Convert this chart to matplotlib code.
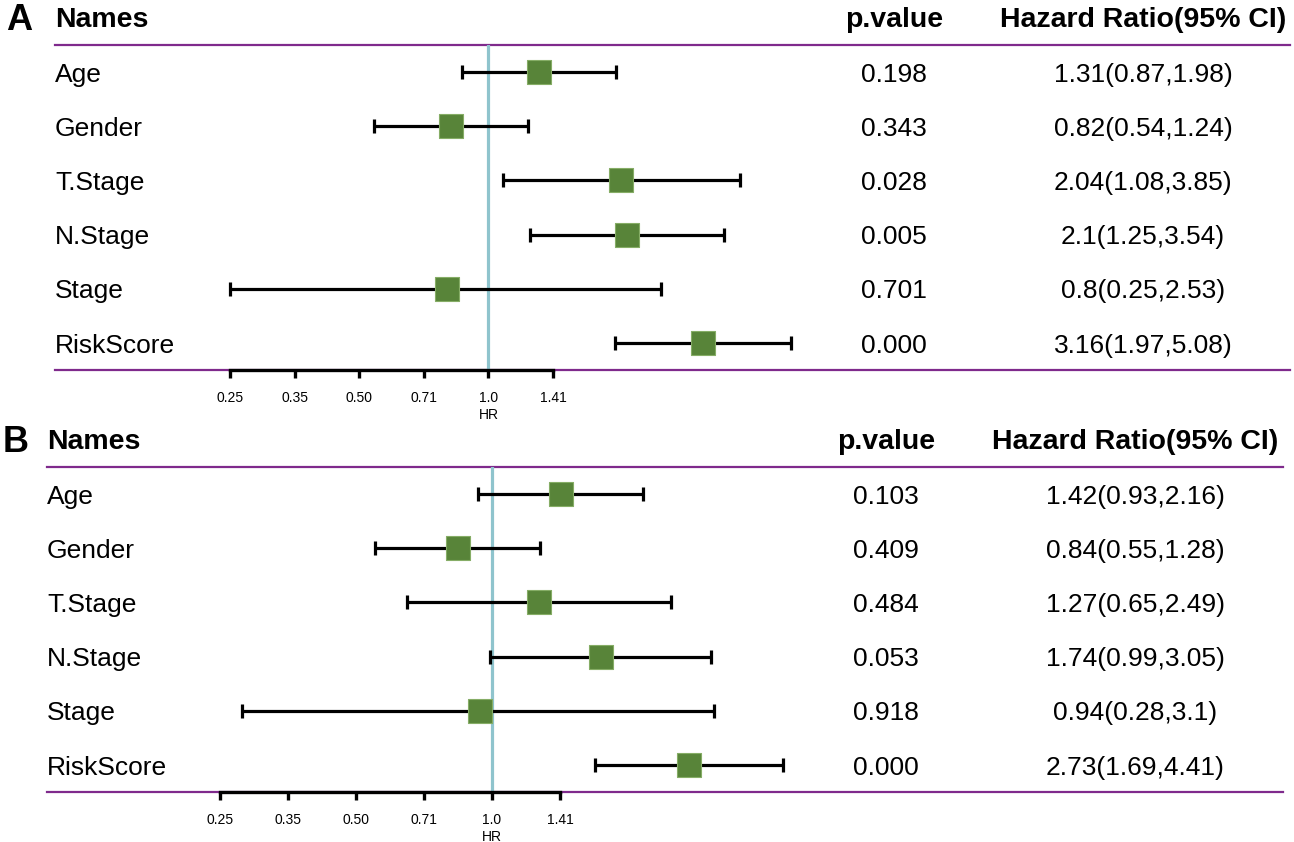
import numpy as np
import matplotlib
matplotlib.use("Agg")
import matplotlib.pyplot as plt
from matplotlib.transforms import blended_transform_factory

plt.rcParams["font.family"] = ["Liberation Sans", "DejaVu Sans"]

W, H = 1294, 842

names = ["Age", "Gender", "T.Stage", "N.Stage", "Stage", "RiskScore"]

# panel A
a_pval = ["0.198", "0.343", "0.028", "0.005", "0.701", "0.000"]
a_hr = [1.31, 0.82, 2.04, 2.1, 0.8, 3.16]
a_lo = [0.87, 0.54, 1.08, 1.25, 0.25, 1.97]
a_hi = [1.98, 1.24, 3.85, 3.54, 2.53, 5.08]

# panel B
b_pval = ["0.103", "0.409", "0.484", "0.053", "0.918", "0.000"]
b_hr = [1.42, 0.84, 1.27, 1.74, 0.94, 2.73]
b_lo = [0.93, 0.55, 0.65, 0.99, 0.28, 1.69]
b_hi = [2.16, 1.28, 2.49, 3.05, 3.1, 4.41]

tick_exp = [-2, -1.5, -1, -0.5, 0, 0.5]
tick_labels = ["0.25", "0.35", "0.50", "0.71", "1.0", "1.41"]

GREEN = "#588439"
BLUE = "#8fc4cd"
PURPLE = "#7f2a8c"


def draw_panel(fig, letter, pval, hr, lo, hi, box):
    # box: pixel layout (left, right, x at 0.25, x at 1.41, top line, bottom line, p col, HR col, letter x)
    left, right, x_lo, x_hi, top, bottom, pcol, hcol, lx = box
    ax = fig.add_axes([left / W, 1 - bottom / H, (right - left) / W, (bottom - top) / H])
    ppu = (x_hi - x_lo) / 2.5
    u_left = -2 - (x_lo - left) / ppu
    u_right = 0.5 + (right - x_hi) / ppu
    ax.set_xscale("log", base=2)
    ax.set_xlim(2 ** u_left, 2 ** u_right)
    ax.set_ylim(6.5, 0.5)

    hr = np.array(hr)
    lo = np.array(lo)
    hi = np.array(hi)
    y = np.arange(1, len(hr) + 1)

    ax.axhline(0.5, color=PURPLE, lw=1.6, clip_on=False, zorder=1)
    ax.axhline(6.5, color=PURPLE, lw=1.6, clip_on=False, zorder=1)
    ax.axvline(1.0, color=BLUE, lw=2.3, zorder=1)
    ax.errorbar(hr, y, xerr=[hr - lo, hi - hr], fmt="none", ecolor="black",
                elinewidth=2.3, capsize=5, capthick=2.3, zorder=2)
    ax.scatter(hr, y, marker="s", s=290, color=GREEN, edgecolor="#86ad66",
               linewidth=0.8, zorder=3)

    for sp in ["top", "left", "right"]:
        ax.spines[sp].set_visible(False)
    ax.spines["bottom"].set_bounds(2 ** tick_exp[0], 2 ** tick_exp[-1])
    ax.spines["bottom"].set_linewidth(2.4)
    ax.spines["bottom"].set_zorder(4)
    ax.set_xticks([2 ** e for e in tick_exp])
    ax.set_xticklabels(tick_labels)
    ax.xaxis.set_minor_locator(matplotlib.ticker.NullLocator())
    ax.tick_params(axis="x", direction="out", length=6, width=2.4, pad=9, labelsize=10)
    ax.set_yticks([])
    ax.text(1.0, 7.33, "HR", ha="center", va="center", fontsize=10)

    tr_name = blended_transform_factory(ax.transAxes, ax.transData)
    tr_fig = blended_transform_factory(fig.transFigure, ax.transData)

    hy = 0.04
    ax.text(0, hy, "Names", transform=tr_name, ha="left", va="center",
            fontsize=20.5, fontweight="bold")
    ax.text(pcol / W, hy, "p.value", transform=tr_fig, ha="center", va="center",
            fontsize=20.5, fontweight="bold")
    ax.text(hcol / W, hy, "Hazard Ratio(95% CI)", transform=tr_fig, ha="center",
            va="center", fontsize=20.5, fontweight="bold")
    ax.text(lx / W, hy, letter, transform=tr_fig, ha="left", va="center",
            fontsize=26, fontweight="bold")

    for yi, n, p, h, l, u in zip(y, names, pval, hr, lo, hi):
        ty = yi + 0.05
        ax.text(0, ty, n, transform=tr_name, ha="left", va="center", fontsize=19)
        ax.text(pcol / W, ty, p, transform=tr_fig, ha="center", va="center", fontsize=19)
        ax.text(hcol / W, ty, f"{h:g}({l:g},{u:g})", transform=tr_fig,
                ha="center", va="center", fontsize=19)
    return ax


fig = plt.figure(figsize=(W / 100, H / 100), dpi=100)
draw_panel(fig, "A", a_pval, a_hr, a_lo, a_hi,
           (55, 1290, 230, 553, 45, 370, 894, 1143, 6))
draw_panel(fig, "B", b_pval, b_hr, b_lo, b_hi,
           (47, 1283, 220, 560, 467, 792, 886, 1135, 3))
fig.savefig("out.png", dpi=100)
